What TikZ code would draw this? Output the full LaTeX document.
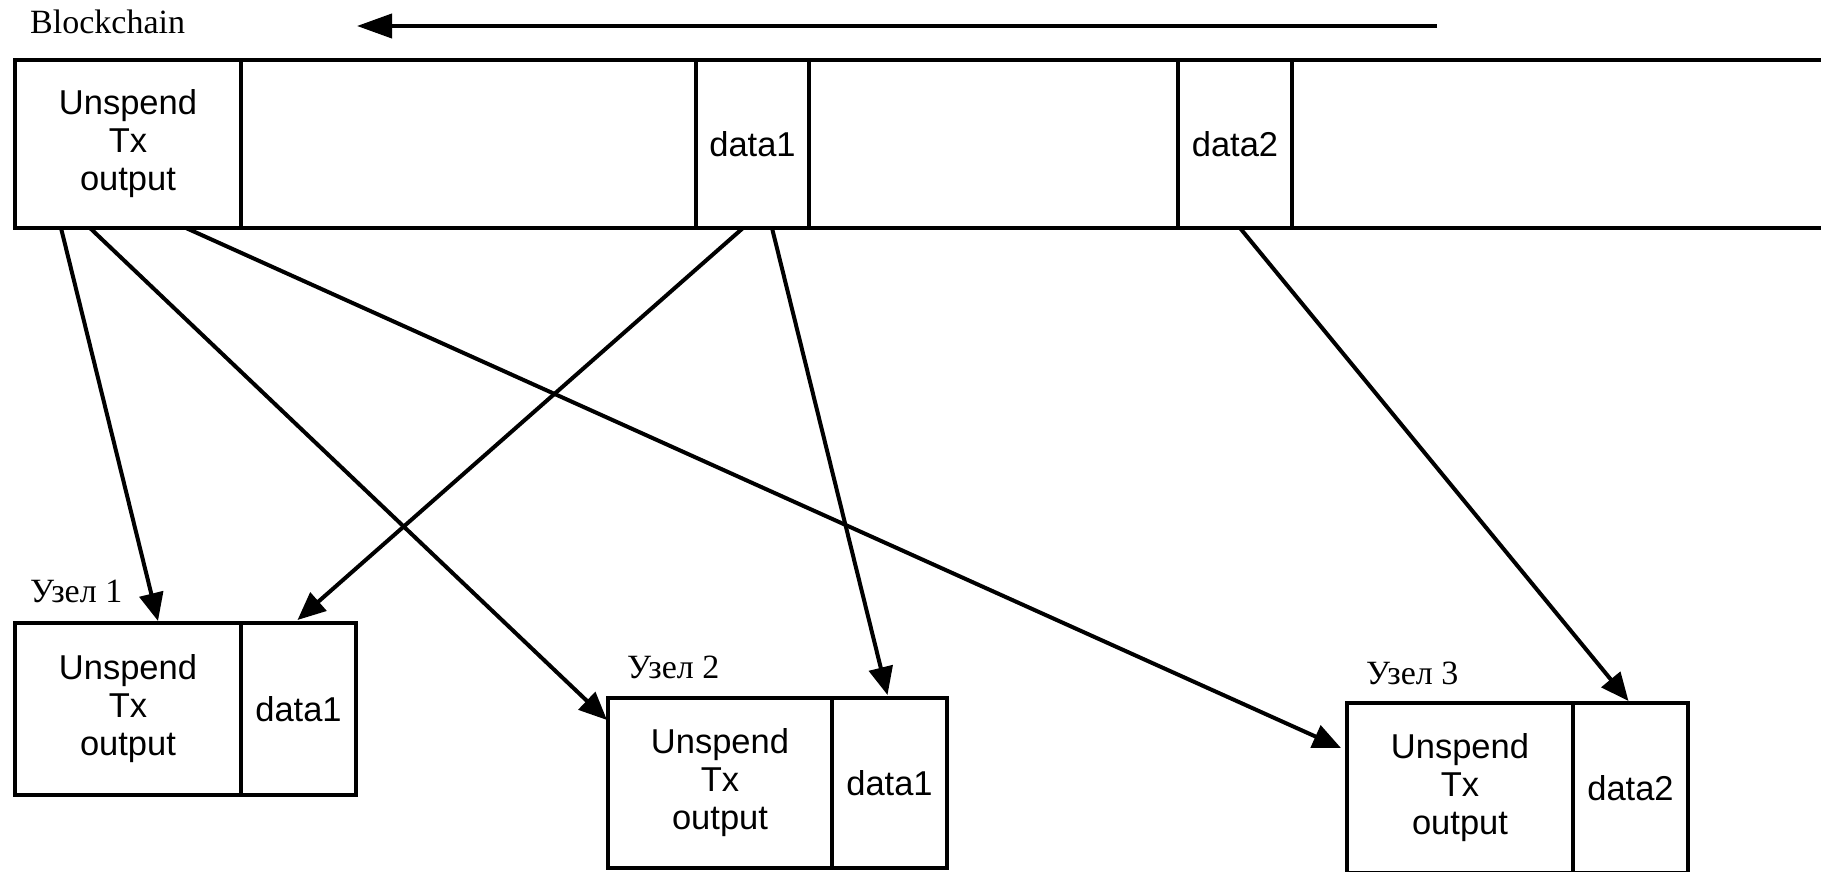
\documentclass[tikz,border=0pt]{standalone}
\usepackage{fontspec}
\setmainfont{Liberation Serif}
\newfontfamily\cellfont{Liberation Sans}
\usepackage{tikz}
\usetikzlibrary{arrows.meta,positioning,calc}

\begin{document}
\begin{tikzpicture}[
  x=1pt, y=-1pt,
  >={Triangle[length=28pt,width=24pt]},
  cell/.style={draw, line width=4.8pt, inner sep=0pt, outer sep=0pt, align=center,
    minimum height=168pt, font=\cellfont\fontsize{34.5}{38}\selectfont},
  tag/.style={anchor=base west, inner sep=0pt, font=\fontsize{34}{38}\selectfont},
  link/.style={->, line width=4pt}
]
\useasboundingbox (0,0) rectangle (1821,872);

% the chain, read from right to left
\node[tag] (title) at (30,34) {Blockchain};
\coordinate (flowR) at (1437,26);
\coordinate (flowL) at (357,26);
\draw[link, >={Triangle[length=35pt,width=24pt]}] (flowR) -- (flowL);

\node[cell, minimum width=226pt, anchor=north west] (tx) at (15,60) {Unspend\\Tx\\output};
\node[cell, minimum width=455pt, right=0pt of tx] (e1) {};
\node[cell, minimum width=113pt, right=0pt of e1] (d1) {data1};
\node[cell, minimum width=369pt, right=0pt of d1] (e2) {};
\node[cell, minimum width=114pt, right=0pt of e2] (d2) {data2};
\node[cell, minimum width=600pt, right=0pt of d2] (e3) {};

% the three nodes
\node[cell, minimum width=226pt, minimum height=172pt, anchor=north west] (n1) at (15,623) {Unspend\\Tx\\output};
\node[cell, minimum width=115pt, minimum height=172pt, right=0pt of n1] (n1d) {data1};
\node[tag] (l1) at ($(n1.north west)+(15,-21)$) {Узел 1};

\node[cell, minimum width=224pt, minimum height=170pt, anchor=north west] (n2) at (608,698) {Unspend\\Tx\\output};
\node[cell, minimum width=115pt, minimum height=170pt, right=0pt of n2] (n2d) {data1};
\node[tag] (l2) at ($(n2.north west)+(19,-20)$) {Узел 2};

\node[cell, minimum width=226pt, minimum height=170pt, anchor=north west] (n3) at (1347,703) {Unspend\\Tx\\output};
\node[cell, minimum width=115pt, minimum height=170pt, right=0pt of n3] (n3d) {data2};
\node[tag] (l3) at ($(n3.north west)+(19,-19)$) {Узел 3};

% copies handed out to the nodes
\draw[link] ($(tx.south west)+(46,0)$) -- ($(n1.north west)+(143,-2)$);
\draw[link] ($(tx.south west)+(75,0)$) -- ($(n2.north west)+(-1,22)$);
\draw[link] ($(tx.south west)+(171,0)$) -- ($(n3.north west)+(-6,45)$);
\draw[link] ($(d1.south west)+(47,0)$) -- ($(n1d.north)+(-1,-3)$);
\draw[link] ($(d1.south west)+(76,0)$) -- ($(n2d.north)+(-2,-3)$);
\draw[link] ($(d2.south west)+(62,0)$) -- ($(n3d.north)+(-2,-2)$);
\end{tikzpicture}
\end{document}
